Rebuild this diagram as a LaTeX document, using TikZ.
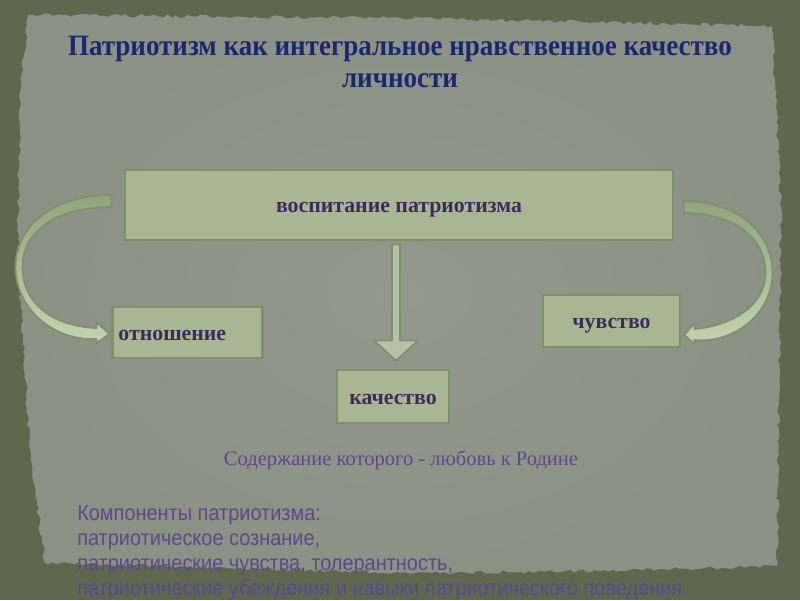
\documentclass[tikz,border=0pt]{standalone}
\usepackage{fontspec}
\setmainfont{Liberation Serif}
\setsansfont{Liberation Sans}
\usetikzlibrary{calc,positioning,decorations.pathmorphing}

\definecolor{frame}{RGB}{94,104,78}
\definecolor{paper}{RGB}{140,145,133}
\definecolor{paperlight}{RGB}{148,153,141}
\definecolor{boxfill}{RGB}{169,182,148}
\definecolor{boxedge}{RGB}{126,145,106}
\definecolor{titleblue}{RGB}{26,40,112}
\definecolor{boxtext}{RGB}{60,44,94}
\definecolor{lilac}{RGB}{90,74,140}
\definecolor{arrowdark}{RGB}{146,164,126}
\definecolor{arrowlight}{RGB}{198,210,176}

\tikzset{
  stagebox/.style={draw=boxedge, line width=2pt, fill=boxfill, text=boxtext,
    font=\bfseries\fontsize{15.5}{17}\selectfont, inner sep=0pt,
    text height=11pt, text depth=0pt},
  bendarrow/.style={draw=boxedge, line width=1.2pt, line join=round},
}

\begin{document}
\begin{tikzpicture}[x=0.025cm, y=-0.025cm]
  \useasboundingbox (0,0) rectangle (800,600);
  % frame and torn paper
  \fill[frame] (0,0) rectangle (800,600);
  \pgfmathsetseed{7}
  \shade[inner color=paperlight, outer color=paper, decorate,
    decoration={random steps, segment length=3pt, amplitude=1.2pt}]
    (28,15) -- (400,18) -- (772,26) -- (781,200) -- (779,400) -- (777,566)
    -- (600,571) -- (400,573) -- (200,567) -- (45,563) -- (30,450)
    -- (18,260) -- (20,100) -- cycle;
  % title
  \node[text=titleblue, font=\bfseries\fontsize{21}{22.5}\selectfont, align=center, xscale=0.915]
    (title) at (400,62) {Патриотизм как интегральное нравственное качество\\личности};
  % boxes
  \node[stagebox, minimum width=13.7cm, minimum height=1.75cm] (vosp) at (399,205) {воспитание патриотизма};
  \node[stagebox, minimum width=3.725cm, minimum height=1.275cm, text width=3.45cm,
    inner xsep=0.14cm, align=left] (otn) at (187.5,332.5) {отношение};
  \node[stagebox, minimum width=2.8cm, minimum height=1.325cm] (kach) at (393,396.5) {качество};
  \node[stagebox, minimum width=3.425cm, minimum height=1.3cm] (chuv) at (611.5,321) {чувство};
  % down arrow
  \coordinate (dtop) at ($(vosp.south)+(-3,3)$);
  \coordinate (dtip) at ($(kach.north)+(3,-8)$);
  \filldraw[bendarrow, fill=boxfill!85!white]
    ($(dtop)+(-4,0)$) -- ($(dtip)+(-4,-20)$) -- ($(dtip)+(-22,-20)$) -- (dtip)
    -- ($(dtip)+(22,-20)$) -- ($(dtip)+(4,-20)$) -- ($(dtop)+(4,0)$) -- cycle;
  % left bent arrow
  \coordinate (ltop) at ($(vosp.west)+(-12,-4)$);
  \coordinate (lend) at ($(otn.west)+(-2,1.5)$);
  \path[bendarrow, top color=arrowdark, bottom color=arrowlight]
    ($(ltop)+(0,-6)$) .. controls +(-60,0) and +(0,-40) .. ($(ltop)+(-96,66)$)
    .. controls +(0,40) and +(-45,2) .. ($(lend)+(-13,5)$)
    -- ($(lend)+(-13,9)$) -- (lend) -- ($(lend)+(-13,-12)$) -- ($(lend)+(-13,-6)$)
    .. controls +(-45,-2) and +(0,36) .. ($(ltop)+(-89,66)$)
    .. controls +(0,-36) and +(-55,0) .. ($(ltop)+(0,6)$) -- cycle;
  % right bent arrow
  \coordinate (rtop) at ($(vosp.east)+(9,2)$);
  \coordinate (rend) at ($(chuv.east)+(3,14)$);
  \path[bendarrow, top color=arrowdark, bottom color=arrowlight]
    ($(rtop)+(0,-6)$) .. controls +(55,0) and +(0,-40) .. ($(rtop)+(89,66)$)
    .. controls +(0,40) and +(40,4) .. ($(rend)+(10,5)$)
    -- ($(rend)+(10,9)$) -- (rend) -- ($(rend)+(10,-12)$) -- ($(rend)+(10,-6)$)
    .. controls +(35,-3) and +(0,34) .. ($(rtop)+(82,66)$)
    .. controls +(0,-36) and +(50,0) .. ($(rtop)+(0,6)$) -- cycle;
  % caption and components
  \node[text=lilac, font=\fontsize{14.6}{17}\selectfont] (caption) at (401,460)
    {Содержание которого - любовь к Родине};
  \node[text=lilac, font=\sffamily\fontsize{15.5}{17.7}\selectfont, align=left,
    anchor=west, inner sep=0pt, xscale=0.915] (comp) at (77,553)
    {Компоненты патриотизма:\\патриотическое сознание,\\патриотические чувства, толерантность,\\патриотические убеждения и навыки патриотического поведения.};
\end{tikzpicture}
\end{document}
